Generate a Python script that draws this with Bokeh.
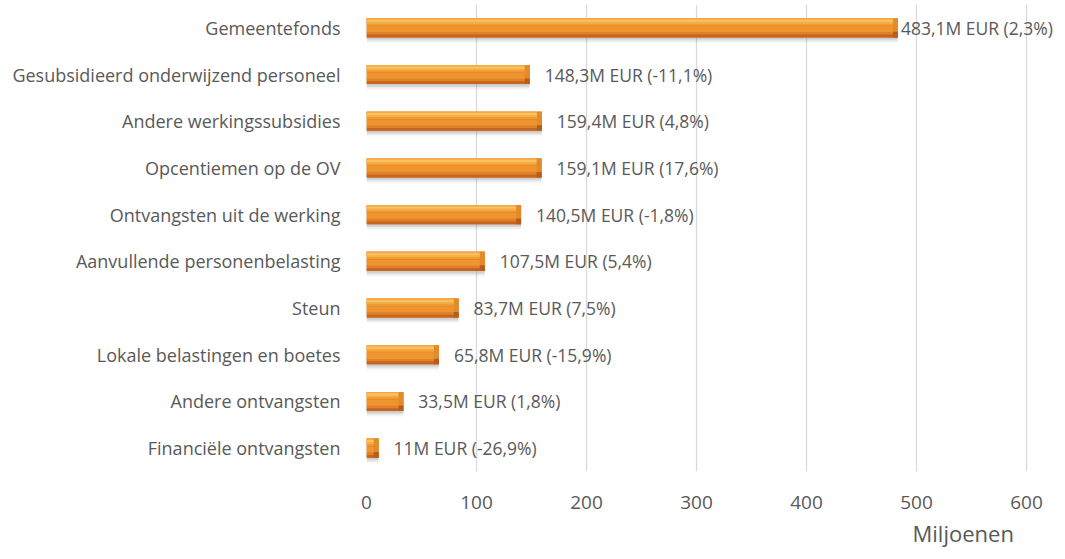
from bokeh.plotting import figure
from bokeh.models import Range1d, FixedTicker, ColumnDataSource, Title
from bokeh.transform import dodge
from bokeh.core.properties import value
from bokeh.embed import file_html
from bokeh.resources import INLINE

categories = [
    "Gemeentefonds",
    "Gesubsidieerd onderwijzend personeel",
    "Andere werkingssubsidies",
    "Opcentiemen op de OV",
    "Ontvangsten uit de werking",
    "Aanvullende personenbelasting",
    "Steun",
    "Lokale belastingen en boetes",
    "Andere ontvangsten",
    "Financiële ontvangsten",
]
values = [483.1, 148.3, 159.4, 159.1, 140.5, 107.5, 83.7, 65.8, 33.5, 11.0]
changes = ["2,3", "-11,1", "4,8", "17,6", "-1,8", "5,4", "7,5", "-15,9", "1,8", "-26,9"]
x_ticks = [0, 100, 200, 300, 400, 500, 600]
x_title = "Miljoenen"


def fmt(v):
    s = ("%g" % v) if float(v).is_integer() else ("%.1f" % v)
    return s.replace(".", ",")


labels = ["%sM EUR (%s%%)" % (fmt(v), c) for v, c in zip(values, changes)]
ypos = list(range(len(categories)))
# label gap: the longest bar's label sits closer to keep it inside the chart
gaps = [3 if v > 400 else 15 for v in values]

FONT = "Open Sans"
TXT = "#595959"

W, HGT = 1057, 551
LEFT = 366
RIGHT600 = 1026
px_per_unit = (RIGHT600 - LEFT) / 600.0
x_end = 600 + (W - RIGHT600) / px_per_unit

p = figure(width=W, height=HGT, output_backend="svg", toolbar_location=None,
           x_range=Range1d(0, x_end), y_range=Range1d(len(categories) - 0.5, -0.5),
           min_border_left=LEFT, min_border_right=0, min_border_top=4, min_border_bottom=78)
p.outline_line_color = None
p.background_fill_color = "white"
p.border_fill_color = "white"

# grid
p.xgrid.ticker = FixedTicker(ticks=x_ticks)
p.xgrid.grid_line_color = "#d9d9d9"
p.xgrid.grid_line_width = 1.3
p.ygrid.grid_line_color = None

# axes
p.xaxis.ticker = FixedTicker(ticks=x_ticks)
p.xaxis.axis_line_color = None
p.xaxis.major_tick_line_color = None
p.xaxis.minor_tick_line_color = None
p.xaxis.major_label_standoff = 18
p.xaxis.major_label_text_font = FONT
p.xaxis.major_label_text_font_size = "19px"
p.xaxis.major_label_text_color = TXT

p.yaxis.ticker = FixedTicker(ticks=ypos)
p.yaxis.major_label_overrides = {i: c for i, c in zip(ypos, categories)}
p.yaxis.axis_line_color = None
p.yaxis.major_tick_line_color = None
p.yaxis.minor_tick_line_color = None
p.yaxis.major_label_standoff = 20
p.yaxis.major_label_text_font = FONT
p.yaxis.major_label_text_font_size = "18px"
p.yaxis.major_label_text_color = TXT

H = 0.41
src = ColumnDataSource(dict(y=ypos, v=values, lab=labels, gap=gaps))

# soft shadow
for dy, a in [(0.12, 0.06), (0.09, 0.10), (0.06, 0.14), (0.035, 0.16)]:
    p.hbar(y=dodge("y", dy, range=p.y_range), right="v", left=0, height=H, source=src,
           fill_color="#808080", fill_alpha=a, line_color=None)

# base bar (dark orange)
p.hbar(y="y", right="v", left=0, height=H, source=src,
       fill_color="#D4731F", line_color=None)
# gradient bands
bands = [
    (-0.155, 0.10, "#E98A2A"),
    (-0.125, 0.16, "#F29A32"),
    (-0.14, 0.10, "#F6AE45"),
    (-0.165, 0.07, "#F9C262"),
    (-0.19, 0.03, "#F3A845"),
    (0.03, 0.14, "#EE9530"),
    (0.12, 0.06, "#E0802A"),
    (0.175, 0.06, "#C7651E"),
]
for dy, hh, col in bands:
    p.hbar(y=dodge("y", dy, range=p.y_range), right="v", left=0, height=hh, source=src,
           fill_color=col, line_color=None)

# right-end bevel
p.rect(x=dodge("v", -2.4 / px_per_unit, range=p.x_range), y=dodge("y", -0.06, range=p.y_range),
       width=5, width_units="screen", height=0.29, source=src,
       fill_color="#E38A2C", line_color=None)
p.rect(x=dodge("v", -2.4 / px_per_unit, range=p.x_range), y=dodge("y", 0.145, range=p.y_range),
       width=5, width_units="screen", height=0.12, source=src,
       fill_color="#B95C1A", line_color=None)

# data labels
p.text(x="v", y="y", text="lab", source=src, x_offset="gap",
       text_font=value(FONT), text_font_size="17.5px", text_color=TXT,
       text_baseline="middle", text_align="left")

p.add_layout(Title(text=x_title, align="left", offset=546, standoff=8,
                   text_font=FONT, text_font_size="22px", text_color=TXT,
                   text_font_style="normal"), "below")

open("out.html", "w").write(file_html(p, INLINE))
